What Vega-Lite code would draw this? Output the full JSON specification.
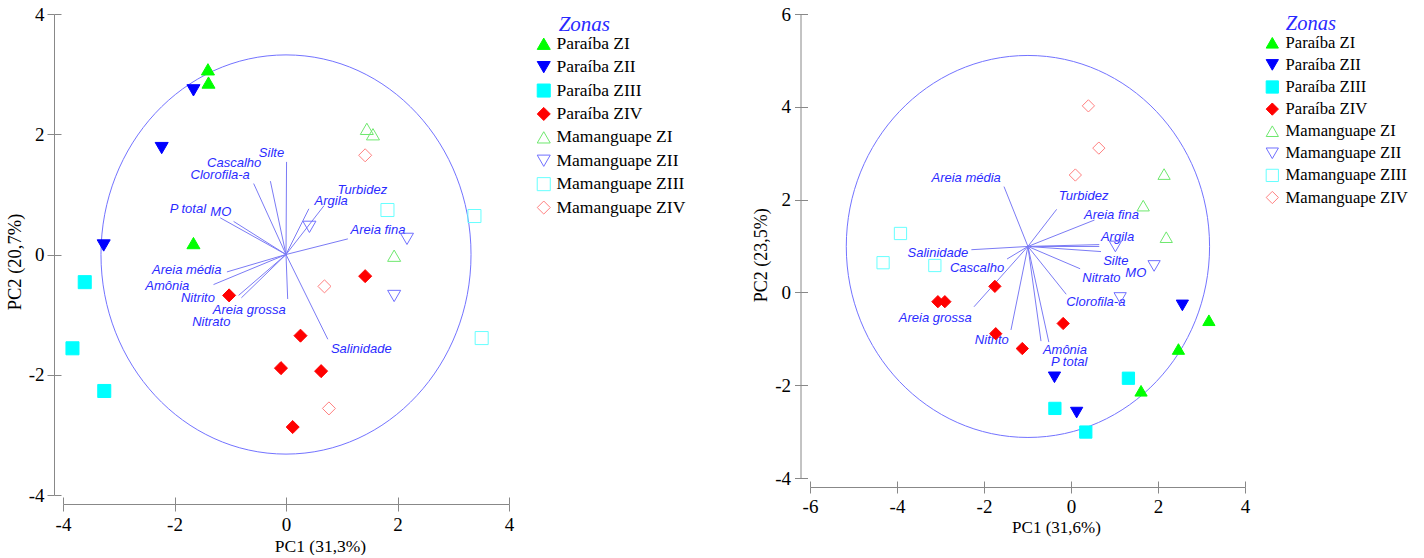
{
  "$schema": "https://vega.github.io/schema/vega-lite/v6.json",
  "padding": {"left": 5, "top": 5, "right": 5, "bottom": 0},
  "config": {
    "view": {"stroke": null},
    "axis": {"grid": false, "labelFont": "Liberation Serif", "titleFont": "Liberation Serif", "labelColor": "black", "titleColor": "black", "titleFontWeight": "normal", "domainColor": "#888888", "tickColor": "#888888"},
    "text": {"font": "Liberation Sans"}
  },
  "datasets": {
    "circL": [{"cx": 0, "cy": 0}],
    "circR": [{"cx": -0.99, "cy": 0.99}],
    "scoresL": [
      {"zone": "Paraíba ZI", "pc1": -1.40, "pc2": 3.08},
      {"zone": "Paraíba ZI", "pc1": -1.39, "pc2": 2.86},
      {"zone": "Paraíba ZI", "pc1": -1.66, "pc2": 0.19},
      {"zone": "Paraíba ZII", "pc1": -1.66, "pc2": 2.73},
      {"zone": "Paraíba ZII", "pc1": -2.23, "pc2": 1.77},
      {"zone": "Paraíba ZII", "pc1": -3.27, "pc2": 0.15},
      {"zone": "Paraíba ZIII", "pc1": -3.61, "pc2": -0.46},
      {"zone": "Paraíba ZIII", "pc1": -3.83, "pc2": -1.56},
      {"zone": "Paraíba ZIII", "pc1": -3.26, "pc2": -2.27},
      {"zone": "Paraíba ZIV", "pc1": -1.02, "pc2": -0.68},
      {"zone": "Paraíba ZIV", "pc1": 1.42, "pc2": -0.36},
      {"zone": "Paraíba ZIV", "pc1": 0.26, "pc2": -1.35},
      {"zone": "Paraíba ZIV", "pc1": -0.09, "pc2": -1.89},
      {"zone": "Paraíba ZIV", "pc1": 0.63, "pc2": -1.94},
      {"zone": "Paraíba ZIV", "pc1": 0.12, "pc2": -2.87},
      {"zone": "Mamanguape ZI", "pc1": 1.45, "pc2": 2.09},
      {"zone": "Mamanguape ZI", "pc1": 1.56, "pc2": 2.00},
      {"zone": "Mamanguape ZI", "pc1": 1.94, "pc2": -0.02},
      {"zone": "Mamanguape ZII", "pc1": 0.42, "pc2": 0.46},
      {"zone": "Mamanguape ZII", "pc1": 2.17, "pc2": 0.26},
      {"zone": "Mamanguape ZII", "pc1": 1.94, "pc2": -0.69},
      {"zone": "Mamanguape ZIII", "pc1": 1.82, "pc2": 0.74},
      {"zone": "Mamanguape ZIII", "pc1": 3.38, "pc2": 0.64},
      {"zone": "Mamanguape ZIII", "pc1": 3.51, "pc2": -1.39},
      {"zone": "Mamanguape ZIV", "pc1": 1.42, "pc2": 1.65},
      {"zone": "Mamanguape ZIV", "pc1": 0.69, "pc2": -0.53},
      {"zone": "Mamanguape ZIV", "pc1": 0.77, "pc2": -2.56}
    ],
    "vecL": [
      {"var": "Silte", "x0": 0, "y0": 0, "xe": 0.01, "ye": 1.54, "lx": -0.26, "ly": 1.68},
      {"var": "Cascalho", "x0": 0, "y0": 0, "xe": -0.28, "ye": 1.22, "lx": -0.93, "ly": 1.53},
      {"var": "Clorofila-a", "x0": 0, "y0": 0, "xe": -0.58, "ye": 1.18, "lx": -1.18, "ly": 1.33},
      {"var": "P total", "x0": 0, "y0": 0, "xe": -1.18, "ye": 0.61, "lx": -1.76, "ly": 0.76},
      {"var": "MO", "x0": 0, "y0": 0, "xe": -0.94, "ye": 0.55, "lx": -1.17, "ly": 0.70},
      {"var": "Turbidez", "x0": 0, "y0": 0, "xe": 0.68, "ye": 0.81, "lx": 1.37, "ly": 1.08},
      {"var": "Argila", "x0": 0, "y0": 0, "xe": 0.41, "ye": 0.76, "lx": 0.81, "ly": 0.89},
      {"var": "Areia fina", "x0": 0, "y0": 0, "xe": 1.11, "ye": 0.26, "lx": 1.65, "ly": 0.40},
      {"var": "Areia média", "x0": 0, "y0": 0, "xe": -1.06, "ye": -0.29, "lx": -1.78, "ly": -0.26},
      {"var": "Amônia", "x0": 0, "y0": 0, "xe": -1.30, "ye": -0.50, "lx": -2.13, "ly": -0.52},
      {"var": "Nitrito", "x0": 0, "y0": 0, "xe": -0.85, "ye": -0.68, "lx": -1.58, "ly": -0.73},
      {"var": "Areia grossa", "x0": 0, "y0": 0, "xe": 0.03, "ye": -0.74, "lx": -0.66, "ly": -0.92},
      {"var": "Nitrato", "x0": 0, "y0": 0, "xe": -0.80, "ye": -0.72, "lx": -1.34, "ly": -1.12},
      {"var": "Salinidade", "x0": 0, "y0": 0, "xe": 0.75, "ye": -1.41, "lx": 1.35, "ly": -1.57}
    ],
    "scoresR": [
      {"zone": "Paraíba ZI", "pc1": 3.17, "pc2": -0.60},
      {"zone": "Paraíba ZI", "pc1": 2.47, "pc2": -1.22},
      {"zone": "Paraíba ZI", "pc1": 1.61, "pc2": -2.12},
      {"zone": "Paraíba ZII", "pc1": 2.56, "pc2": -0.28},
      {"zone": "Paraíba ZII", "pc1": -0.38, "pc2": -1.83},
      {"zone": "Paraíba ZII", "pc1": 0.13, "pc2": -2.59},
      {"zone": "Paraíba ZIII", "pc1": 1.32, "pc2": -1.85},
      {"zone": "Paraíba ZIII", "pc1": -0.37, "pc2": -2.50},
      {"zone": "Paraíba ZIII", "pc1": 0.34, "pc2": -3.01},
      {"zone": "Paraíba ZIV", "pc1": -1.75, "pc2": 0.13},
      {"zone": "Paraíba ZIV", "pc1": -3.06, "pc2": -0.20},
      {"zone": "Paraíba ZIV", "pc1": -2.90, "pc2": -0.20},
      {"zone": "Paraíba ZIV", "pc1": -1.73, "pc2": -0.89},
      {"zone": "Paraíba ZIV", "pc1": -1.12, "pc2": -1.21},
      {"zone": "Paraíba ZIV", "pc1": -0.18, "pc2": -0.67},
      {"zone": "Mamanguape ZI", "pc1": 2.14, "pc2": 2.55},
      {"zone": "Mamanguape ZI", "pc1": 1.66, "pc2": 1.87},
      {"zone": "Mamanguape ZI", "pc1": 2.19, "pc2": 1.19},
      {"zone": "Mamanguape ZII", "pc1": 1.02, "pc2": 0.99},
      {"zone": "Mamanguape ZII", "pc1": 1.91, "pc2": 0.57},
      {"zone": "Mamanguape ZII", "pc1": 1.13, "pc2": -0.12},
      {"zone": "Mamanguape ZIII", "pc1": -3.92, "pc2": 1.27},
      {"zone": "Mamanguape ZIII", "pc1": -4.32, "pc2": 0.64},
      {"zone": "Mamanguape ZIII", "pc1": -3.13, "pc2": 0.58},
      {"zone": "Mamanguape ZIV", "pc1": 0.40, "pc2": 4.02},
      {"zone": "Mamanguape ZIV", "pc1": 0.64, "pc2": 3.11},
      {"zone": "Mamanguape ZIV", "pc1": 0.10, "pc2": 2.53}
    ],
    "vecR": [
      {"var": "Areia média", "x0": -0.99, "y0": 0.99, "xe": -1.54, "ye": 2.28, "lx": -2.41, "ly": 2.46},
      {"var": "Turbidez", "x0": -0.99, "y0": 0.99, "xe": -0.33, "ye": 1.79, "lx": 0.29, "ly": 2.08},
      {"var": "Areia fina", "x0": -0.99, "y0": 0.99, "xe": 0.54, "ye": 1.56, "lx": 0.93, "ly": 1.67},
      {"var": "Argila", "x0": -0.99, "y0": 0.99, "xe": 0.65, "ye": 1.03, "lx": 1.07, "ly": 1.20},
      {"var": "MO", "x0": -0.99, "y0": 0.99, "xe": 0.65, "ye": 0.99, "lx": 1.49, "ly": 0.41},
      {"var": "Silte", "x0": -0.99, "y0": 0.99, "xe": 0.69, "ye": 0.88, "lx": 1.03, "ly": 0.67},
      {"var": "Nitrato", "x0": -0.99, "y0": 0.99, "xe": 0.21, "ye": 0.51, "lx": 0.70, "ly": 0.31},
      {"var": "Clorofila-a", "x0": -0.99, "y0": 0.99, "xe": -0.11, "ye": -0.04, "lx": 0.57, "ly": -0.20},
      {"var": "Salinidade", "x0": -0.99, "y0": 0.99, "xe": -2.29, "ye": 0.92, "lx": -3.06, "ly": 0.85},
      {"var": "Cascalho", "x0": -0.99, "y0": 0.99, "xe": -1.47, "ye": 0.72, "lx": -2.16, "ly": 0.52},
      {"var": "Areia grossa", "x0": -0.99, "y0": 0.99, "xe": -2.23, "ye": -0.31, "lx": -3.12, "ly": -0.56},
      {"var": "Nitrito", "x0": -0.99, "y0": 0.99, "xe": -1.38, "ye": -0.81, "lx": -1.82, "ly": -1.02},
      {"var": "Amônia", "x0": -0.99, "y0": 0.99, "xe": -0.69, "ye": -1.05, "lx": -0.14, "ly": -1.25},
      {"var": "P total", "x0": -0.99, "y0": 0.99, "xe": -0.51, "ye": -1.07, "lx": -0.04, "ly": -1.50}
    ]
  },
  "hconcat": [
    {
      "width": 446,
      "height": 481,
      "layer": [
        {
          "data": {"name": "circL"},
          "mark": {"type": "point", "shape": "M-0.927,0A0.927,1,0,1,0,0.927,0A0.927,1,0,1,0,-0.927,0Z", "size": 159360, "filled": false, "opacity": 1, "color": "#7373ff", "strokeWidth": 1},
          "encoding": {
            "x": {"field": "cx", "type": "quantitative", "scale": {"domain": [-4, 4], "nice": false, "zero": false},
              "axis": {"title": "PC1 (31,3%)", "values": [-4, -2, 0, 2, 4], "offset": 9, "tickSize": 7, "labelPadding": 4.5, "labelFont": "Liberation Serif", "labelFontSize": 19, "labelFlush": false, "titleFont": "Liberation Serif", "titleFontSize": 17.5, "titlePadding": 2.5, "titleX": 257, "labelExpr": "datum.value < 0 ? '-' + abs(datum.value) : datum.label"}},
            "y": {"field": "cy", "type": "quantitative", "scale": {"domain": [-4, 4], "nice": false, "zero": false},
              "axis": {"title": "PC2 (20,7%)", "values": [-4, -2, 0, 2, 4], "offset": 9, "tickSize": 7, "labelPadding": 3, "labelFont": "Liberation Serif", "labelFontSize": 19, "titleFont": "Liberation Serif", "titleFontSize": 18.5, "titlePadding": 3.5, "titleY": 247.5, "labelExpr": "datum.value < 0 ? '-' + abs(datum.value) : datum.label"}}
          }
        },
        {
          "data": {"name": "vecL"},
          "mark": {"type": "rule", "color": "#7b7bf5", "strokeWidth": 1},
          "encoding": {
            "x": {"field": "x0", "type": "quantitative", "scale": {"domain": [-4, 4], "nice": false, "zero": false},
              "axis": {"orient": "bottom", "values": [-4, -2, 0, 2, 4], "offset": 9, "tickSize": -7, "labels": false, "domain": false, "title": null}},
            "y": {"field": "y0", "type": "quantitative", "scale": {"domain": [-4, 4], "nice": false, "zero": false},
              "axis": {"orient": "left", "values": [-4, -2, 0, 2, 4], "offset": 9, "tickSize": -7, "labels": false, "domain": false, "title": null}},
            "x2": {"field": "xe"},
            "y2": {"field": "ye"}
          }
        },
        {
          "data": {"name": "vecL"},
          "mark": {"type": "text", "font": "Liberation Sans", "fontStyle": "italic", "fontSize": 13, "color": "#2b2bff", "align": "center", "baseline": "middle"},
          "encoding": {
            "x": {"field": "lx", "type": "quantitative", "scale": {"domain": [-4, 4], "nice": false, "zero": false}, "axis": null},
            "y": {"field": "ly", "type": "quantitative", "scale": {"domain": [-4, 4], "nice": false, "zero": false}, "axis": null},
            "text": {"field": "var"}
          }
        },
        {
          "data": {"name": "scoresL"},
          "mark": {"type": "point", "filled": true, "opacity": 1, "strokeWidth": 1},
          "encoding": {
            "x": {"field": "pc1", "type": "quantitative", "scale": {"domain": [-4, 4], "nice": false, "zero": false}, "axis": null},
            "y": {"field": "pc2", "type": "quantitative", "scale": {"domain": [-4, 4], "nice": false, "zero": false}, "axis": null},
            "shape": {"field": "zone", "type": "nominal",
              "scale": {"domain": ["Paraíba ZI", "Paraíba ZII", "Paraíba ZIII", "Paraíba ZIV", "Mamanguape ZI", "Mamanguape ZII", "Mamanguape ZIII", "Mamanguape ZIV"], "range": ["triangle-up", "triangle-down", "square", "diamond", "triangle-up", "triangle-down", "square", "diamond"]},
              "legend": {"title": "Zonas", "orient": "right", "offset": 26, "padding": 0, "titleFont": "Liberation Serif", "titleFontStyle": "italic", "titleFontWeight": "normal", "titleFontSize": 21, "titleColor": "#2a2aff", "titleAnchor": "middle", "titleAlign": "right", "titlePadding": 0, "labelFont": "Liberation Serif", "labelFontSize": 17.5, "labelColor": "black", "labelOffset": 4, "rowPadding": 4.4, "symbolStrokeWidth": 1}},
            "fill": {"field": "zone", "type": "nominal",
              "scale": {"domain": ["Paraíba ZI", "Paraíba ZII", "Paraíba ZIII", "Paraíba ZIV", "Mamanguape ZI", "Mamanguape ZII", "Mamanguape ZIII", "Mamanguape ZIV"], "range": ["#00ff00", "#0000ff", "#00ffff", "#ff0000", "transparent", "transparent", "transparent", "transparent"]},
              "legend": {"title": "Zonas", "orient": "right", "offset": 26, "padding": 0, "titleFont": "Liberation Serif", "titleFontStyle": "italic", "titleFontWeight": "normal", "titleFontSize": 21, "titleColor": "#2a2aff", "titleAnchor": "middle", "titleAlign": "right", "titlePadding": 0, "labelFont": "Liberation Serif", "labelFontSize": 17.5, "labelColor": "black", "labelOffset": 4, "rowPadding": 4.4, "symbolStrokeWidth": 1}},
            "stroke": {"field": "zone", "type": "nominal",
              "scale": {"domain": ["Paraíba ZI", "Paraíba ZII", "Paraíba ZIII", "Paraíba ZIV", "Mamanguape ZI", "Mamanguape ZII", "Mamanguape ZIII", "Mamanguape ZIV"], "range": ["#00ff00", "#0000ff", "#00ffff", "#ff0000", "#6ee86e", "#7070ff", "#66ffff", "#ff8080"]},
              "legend": {"title": "Zonas", "orient": "right", "offset": 26, "padding": 0, "titleFont": "Liberation Serif", "titleFontStyle": "italic", "titleFontWeight": "normal", "titleFontSize": 21, "titleColor": "#2a2aff", "titleAnchor": "middle", "titleAlign": "right", "titlePadding": 0, "labelFont": "Liberation Serif", "labelFontSize": 17.5, "labelColor": "black", "labelOffset": 4, "rowPadding": 4.4, "symbolStrokeWidth": 1}},
            "size": {"field": "zone", "type": "nominal",
              "scale": {"domain": ["Paraíba ZI", "Paraíba ZII", "Paraíba ZIII", "Paraíba ZIV", "Mamanguape ZI", "Mamanguape ZII", "Mamanguape ZIII", "Mamanguape ZIV"], "range": [170, 170, 95, 150, 170, 170, 95, 150]},
              "legend": {"title": "Zonas", "orient": "right", "offset": 26, "padding": 0, "titleFont": "Liberation Serif", "titleFontStyle": "italic", "titleFontWeight": "normal", "titleFontSize": 21, "titleColor": "#2a2aff", "titleAnchor": "middle", "titleAlign": "right", "titlePadding": 0, "labelFont": "Liberation Serif", "labelFontSize": 17.5, "labelColor": "black", "labelOffset": 4, "rowPadding": 4.4, "symbolStrokeWidth": 1}}
          }
        }
      ],
      "resolve": {"axis": {"x": "independent", "y": "independent"}}
    },
    {
      "width": 435,
      "height": 464,
      "layer": [
        {
          "data": {"name": "circR"},
          "mark": {"type": "point", "shape": "M-0.951,0A0.951,1,0,1,0,0.951,0A0.951,1,0,1,0,-0.951,0Z", "size": 145924, "filled": false, "opacity": 1, "color": "#7373ff", "strokeWidth": 1},
          "encoding": {
            "x": {"field": "cx", "type": "quantitative", "scale": {"domain": [-6, 4], "nice": false, "zero": false},
              "axis": {"title": "PC1 (31,6%)", "values": [-6, -4, -2, 0, 2, 4], "offset": 9, "tickSize": 6, "labelPadding": 4.5, "labelFont": "Liberation Serif", "labelFontSize": 19, "labelFlush": false, "titleFont": "Liberation Serif", "titleFontSize": 17, "titlePadding": 2.5, "titleX": 246, "labelExpr": "datum.value < 0 ? '-' + abs(datum.value) : datum.label"}},
            "y": {"field": "cy", "type": "quantitative", "scale": {"domain": [-4, 6], "nice": false, "zero": false},
              "axis": {"title": "PC2 (23,5%)", "values": [-4, -2, 0, 2, 4, 6], "offset": 9.5, "tickSize": 6, "labelPadding": 4, "labelFont": "Liberation Serif", "labelFontSize": 19, "titleFont": "Liberation Serif", "titleFontSize": 18, "titlePadding": 4, "titleY": 240.7, "labelExpr": "datum.value < 0 ? '-' + abs(datum.value) : datum.label"}}
          }
        },
        {
          "data": {"name": "vecR"},
          "mark": {"type": "rule", "color": "#7b7bf5", "strokeWidth": 1},
          "encoding": {
            "x": {"field": "x0", "type": "quantitative", "scale": {"domain": [-6, 4], "nice": false, "zero": false},
              "axis": {"orient": "bottom", "values": [-6, -4, -2, 0, 2, 4], "offset": 9, "tickSize": -6, "labels": false, "domain": false, "title": null}},
            "y": {"field": "y0", "type": "quantitative", "scale": {"domain": [-4, 6], "nice": false, "zero": false},
              "axis": {"orient": "left", "values": [-4, -2, 0, 2, 4, 6], "offset": 9.5, "tickSize": -7, "labels": false, "domain": false, "title": null}},
            "x2": {"field": "xe"},
            "y2": {"field": "ye"}
          }
        },
        {
          "data": {"name": "vecR"},
          "mark": {"type": "text", "font": "Liberation Sans", "fontStyle": "italic", "fontSize": 13, "color": "#2b2bff", "align": "center", "baseline": "middle"},
          "encoding": {
            "x": {"field": "lx", "type": "quantitative", "scale": {"domain": [-6, 4], "nice": false, "zero": false}, "axis": null},
            "y": {"field": "ly", "type": "quantitative", "scale": {"domain": [-4, 6], "nice": false, "zero": false}, "axis": null},
            "text": {"field": "var"}
          }
        },
        {
          "data": {"name": "scoresR"},
          "mark": {"type": "point", "filled": true, "opacity": 1, "strokeWidth": 1},
          "encoding": {
            "x": {"field": "pc1", "type": "quantitative", "scale": {"domain": [-6, 4], "nice": false, "zero": false}, "axis": null},
            "y": {"field": "pc2", "type": "quantitative", "scale": {"domain": [-4, 6], "nice": false, "zero": false}, "axis": null},
            "shape": {"field": "zone", "type": "nominal",
              "scale": {"domain": ["Paraíba ZI", "Paraíba ZII", "Paraíba ZIII", "Paraíba ZIV", "Mamanguape ZI", "Mamanguape ZII", "Mamanguape ZIII", "Mamanguape ZIV"], "range": ["triangle-up", "triangle-down", "square", "diamond", "triangle-up", "triangle-down", "square", "diamond"]},
              "legend": {"title": "Zonas", "orient": "right", "offset": 19, "padding": 0, "titleFont": "Liberation Serif", "titleFontStyle": "italic", "titleFontWeight": "normal", "titleFontSize": 20.5, "titleColor": "#2a2aff", "titleAnchor": "middle", "titleAlign": "right", "titlePadding": 0, "labelFont": "Liberation Serif", "labelFontSize": 16.6, "labelColor": "black", "labelOffset": 5, "rowPadding": 5.1, "symbolStrokeWidth": 1}},
            "fill": {"field": "zone", "type": "nominal",
              "scale": {"domain": ["Paraíba ZI", "Paraíba ZII", "Paraíba ZIII", "Paraíba ZIV", "Mamanguape ZI", "Mamanguape ZII", "Mamanguape ZIII", "Mamanguape ZIV"], "range": ["#00ff00", "#0000ff", "#00ffff", "#ff0000", "transparent", "transparent", "transparent", "transparent"]},
              "legend": {"title": "Zonas", "orient": "right", "offset": 19, "padding": 0, "titleFont": "Liberation Serif", "titleFontStyle": "italic", "titleFontWeight": "normal", "titleFontSize": 20.5, "titleColor": "#2a2aff", "titleAnchor": "middle", "titleAlign": "right", "titlePadding": 0, "labelFont": "Liberation Serif", "labelFontSize": 16.6, "labelColor": "black", "labelOffset": 5, "rowPadding": 5.1, "symbolStrokeWidth": 1}},
            "stroke": {"field": "zone", "type": "nominal",
              "scale": {"domain": ["Paraíba ZI", "Paraíba ZII", "Paraíba ZIII", "Paraíba ZIV", "Mamanguape ZI", "Mamanguape ZII", "Mamanguape ZIII", "Mamanguape ZIV"], "range": ["#00ff00", "#0000ff", "#00ffff", "#ff0000", "#6ee86e", "#7070ff", "#66ffff", "#ff8080"]},
              "legend": {"title": "Zonas", "orient": "right", "offset": 19, "padding": 0, "titleFont": "Liberation Serif", "titleFontStyle": "italic", "titleFontWeight": "normal", "titleFontSize": 20.5, "titleColor": "#2a2aff", "titleAnchor": "middle", "titleAlign": "right", "titlePadding": 0, "labelFont": "Liberation Serif", "labelFontSize": 16.6, "labelColor": "black", "labelOffset": 5, "rowPadding": 5.1, "symbolStrokeWidth": 1}},
            "size": {"field": "zone", "type": "nominal",
              "scale": {"domain": ["Paraíba ZI", "Paraíba ZII", "Paraíba ZIII", "Paraíba ZIV", "Mamanguape ZI", "Mamanguape ZII", "Mamanguape ZIII", "Mamanguape ZIV"], "range": [150, 150, 100, 125, 150, 150, 100, 125]},
              "legend": {"title": "Zonas", "orient": "right", "offset": 19, "padding": 0, "titleFont": "Liberation Serif", "titleFontStyle": "italic", "titleFontWeight": "normal", "titleFontSize": 20.5, "titleColor": "#2a2aff", "titleAnchor": "middle", "titleAlign": "right", "titlePadding": 0, "labelFont": "Liberation Serif", "labelFontSize": 16.6, "labelColor": "black", "labelOffset": 5, "rowPadding": 5.1, "symbolStrokeWidth": 1}}
          }
        }
      ],
      "resolve": {"axis": {"x": "independent", "y": "independent"}}
    }
  ],
  "spacing": 66,
  "resolve": {
    "scale": {"x": "independent", "y": "independent", "shape": "independent", "fill": "independent", "stroke": "independent", "size": "independent"},
    "legend": {"shape": "independent", "fill": "independent", "stroke": "independent", "size": "independent"}
  }
}
